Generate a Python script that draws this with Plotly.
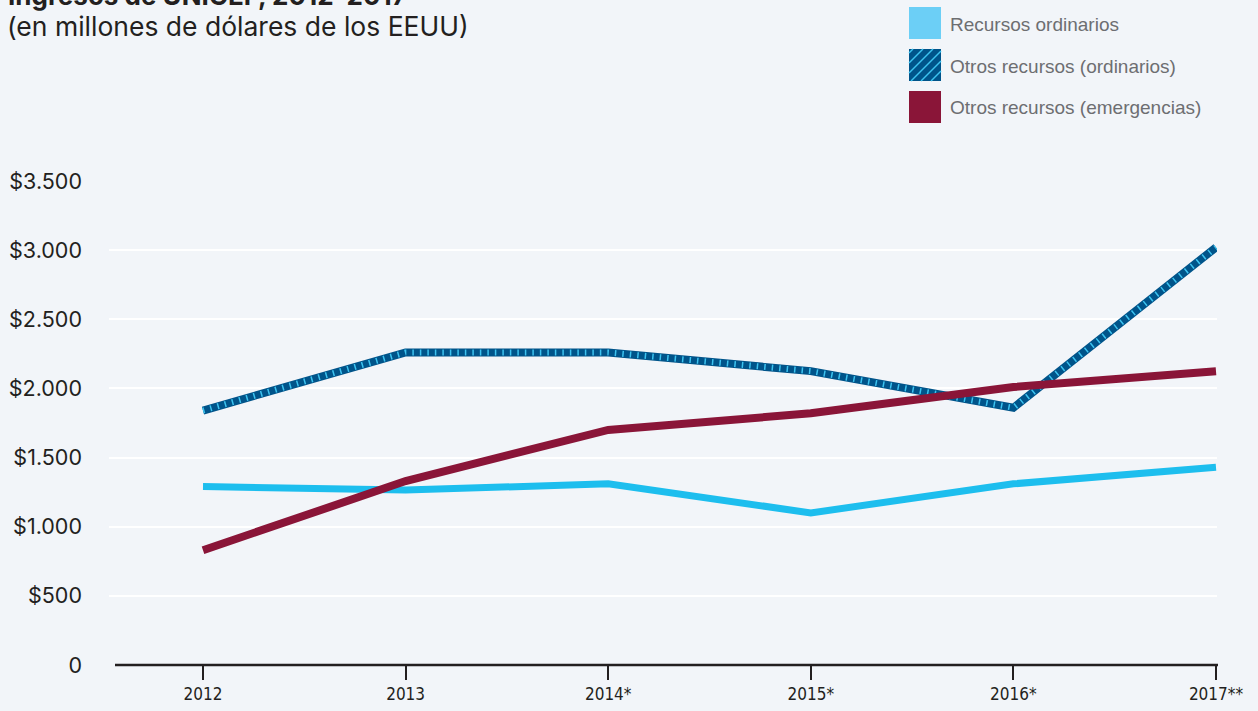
import plotly.graph_objects as go

years = ["2012", "2013", "2014*", "2015*", "2016*", "2017**"]
recursos_ordinarios = [1290, 1265, 1310, 1100, 1310, 1430]
otros_ordinarios = [1840, 2260, 2260, 2125, 1860, 3020]
otros_emergencias = [830, 1330, 1700, 1820, 2010, 2125]
y_tickvals = [0, 500, 1000, 1500, 2000, 2500, 3000, 3500]
y_ticktext = ["0", "$500", "$1.000", "$1.500", "$2.000", "$2.500", "$3.000", "$3.500"]
legend_labels = ["Recursos ordinarios", "Otros recursos (ordinarios)", "Otros recursos (emergencias)"]

W, H = 1258, 711
L, R, T, B = 109, 1217, 181, 665
BG = "#F2F5F9"
C_LIGHT = "#1DBEEE"
C_LIGHT_SW = "#6CCFF6"
C_DARK = "#00548A"
C_STRIPE = "#3CC3F0"
C_MAROON = "#8A1538"
FONT = "Inter, Liberation Sans, sans-serif"
FONT_LEG = "Liberation Sans, sans-serif"
FONT_X = "Liberation Sans Narrow, DejaVu Sans Condensed, Roboto Condensed, Liberation Sans, sans-serif"


def px2x(p):
    return (p - L) / (R - L)


def py2y(p):
    return (B - p) / (B - T)


fig = go.Figure()
fig.add_trace(go.Scatter(x=years, y=recursos_ordinarios, mode="lines",
                         line=dict(color=C_LIGHT, width=7), showlegend=False,
                         name=legend_labels[0]))
fig.add_trace(go.Scatter(x=years, y=otros_ordinarios, mode="lines",
                         line=dict(color=C_DARK, width=8), showlegend=False,
                         name=legend_labels[1]))
fig.add_trace(go.Scatter(x=years, y=otros_ordinarios, mode="lines",
                         line=dict(color=C_STRIPE, width=6, dash="1.5px,6px"),
                         showlegend=False, hoverinfo="skip"))
fig.add_trace(go.Scatter(x=years, y=otros_emergencias, mode="lines",
                         line=dict(color=C_MAROON, width=8), showlegend=False,
                         name=legend_labels[2]))

shapes = []
annotations = []
# x axis baseline (starts slightly right of the gridlines)
shapes.append(dict(type="line", xref="paper", yref="paper", x0=px2x(115), x1=px2x(1218),
                   y0=0, y1=0, line=dict(color="#231F20", width=2.5), layer="above"))

sw_colors = [C_LIGHT_SW, C_DARK, C_MAROON]
sw_tops = [7, 49, 91]
sx0, sx1 = 909, 941
for i, (lab, col, top) in enumerate(zip(legend_labels, sw_colors, sw_tops)):
    shapes.append(dict(type="rect", xref="paper", yref="paper",
                       x0=px2x(sx0), x1=px2x(sx1), y0=py2y(top + 32), y1=py2y(top),
                       fillcolor=col, line=dict(width=0), layer="above"))
    if i == 1:
        for a in range(sx0 - 32 + 4, sx1, 10):
            t0 = max(0, sx0 - a)
            t1 = min(32, sx1 - a)
            if t1 <= t0:
                continue
            shapes.append(dict(type="line", xref="paper", yref="paper",
                               x0=px2x(a + t0), y0=py2y(top + 32 - t0),
                               x1=px2x(a + t1), y1=py2y(top + 32 - t1),
                               line=dict(color=C_STRIPE, width=1.5), layer="above"))
    annotations.append(dict(text=lab, xref="paper", yref="paper",
                            x=px2x(948), y=py2y(top + 17), xanchor="left", yanchor="middle",
                            showarrow=False, font=dict(family=FONT_LEG, size=19, color="#6D6E71")))

annotations.append(dict(text="<b>Ingresos de UNICEF, 2012–2017</b>", xref="paper", yref="paper",
                        x=px2x(6), y=py2y(13), xanchor="left", yanchor="bottom",
                        showarrow=False, font=dict(family=FONT, size=26, color="#231F20")))
annotations.append(dict(text="(en millones de dólares de los EEUU)", xref="paper", yref="paper",
                        x=px2x(5), y=py2y(44), xanchor="left", yanchor="bottom",
                        showarrow=False, font=dict(family=FONT, size=26.5, color="#231F20")))

fig.update_layout(
    width=W, height=H,
    margin=dict(l=L, r=W - R, t=T, b=H - B, autoexpand=False),
    paper_bgcolor=BG, plot_bgcolor=BG,
    shapes=shapes, annotations=annotations,
    showlegend=False,
    xaxis=dict(type="category", range=[-0.464, 5.005], showgrid=False, zeroline=False,
               showline=False, automargin=False,
               ticks="outside", ticklen=14, tickwidth=2, tickcolor="#231F20",
               tickfont=dict(family=FONT_X, size=17, color="#231F20")),
    yaxis=dict(range=[0, 3500], tickvals=y_tickvals, ticktext=y_ticktext,
               showgrid=True, gridcolor="#FFFFFF", gridwidth=2, zeroline=False,
               showline=False, ticklabelstandoff=26, automargin=False,
               tickfont=dict(family=FONT, size=21.5, color="#231F20")),
    hovermode=False,
)

fig.write_html("out.html", config={"displayModeBar": False},
               post_script="document.body.style.margin='0';document.body.style.background='" + BG + "';")
